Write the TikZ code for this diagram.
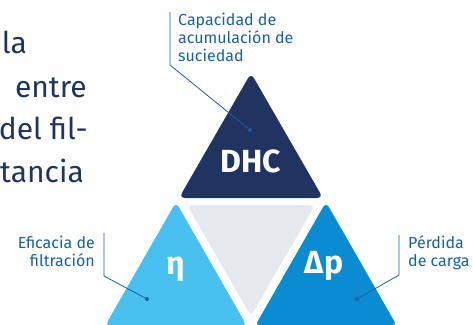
\documentclass[tikz,border=0pt]{standalone}
\usepackage{fontspec}
\setmainfont{Fira Sans}
\definecolor{navy}{HTML}{213360}
\definecolor{skyblue}{HTML}{48C1F1}
\definecolor{midblue}{HTML}{0A8BD2}
\definecolor{palegray}{HTML}{E3E9ED}
\definecolor{labelblue}{HTML}{1560A8}

\begin{document}
\begin{tikzpicture}[x=1pt, y=-1pt,
        tri/.style={rounded corners=6pt},
        sym/.style={text=white, font=\fontsize{32}{32}\selectfont\bfseries, inner sep=0pt},
        lbl/.style={text=labelblue, font=\fontsize{16}{18}\selectfont, inner sep=0pt},
        body/.style={text=navy, font=\fontsize{30}{30}\selectfont, inner sep=0pt, anchor=base east},
        leader/.style={draw=labelblue, line width=0.8pt},
        dot/.style={circle, fill=labelblue, inner sep=0pt, minimum size=4pt}]
        \useasboundingbox (0,0) rectangle (473,324);
        \clip (0,0) rectangle (473,324);

        %top, left, right and middle triangles
        \coordinate (T1) at (251,73);
        \coordinate (T2) at (179,198);
        \coordinate (T3) at (323,198);
        \coordinate (L1) at (176,202);
        \coordinate (L2) at (105,326);
        \coordinate (L3) at (247,326);
        \coordinate (R1) at (326,202);
        \coordinate (R2) at (255,326);
        \coordinate (R3) at (397,326);
        \coordinate (G1) at (187,205);
        \coordinate (G2) at (315,205);
        \coordinate (G3) at (251,316);

        \fill[tri, navy] (T1) -- (T2) -- (T3) -- cycle;
        \fill[tri, skyblue] (L1) -- (L2) -- (L3) -- cycle;
        \fill[tri, midblue] (R1) -- (R2) -- (R3) -- cycle;
        \fill[tri, palegray] (G1) -- (G2) -- (G3) -- cycle;

        \node[sym] (dhc) at (251,161) {DHC};
        \node[sym] (eta) at (176,269) {η};
        \node[sym] (dp) at (324,266) {Δp};

        %cut text on the left
        \node[body] (line1) at (27,53) {la};
        \node[body] (line2) at (87,97) {entre};
        \node[body] (line3) at (88,139) {del fil-};
        \node[body] (line4) at (84,182) {tancia};

        %labels with leaders
        \node[lbl, anchor=north west, align=left] (capa) at (178,13) {Capacidad de\\acumulación de\\suciedad};
        \node[lbl, anchor=north east, align=right] (efi) at (95,236) {Eficacia de\\filtración};
        \node[lbl, anchor=north west, align=left] (perd) at (408,235) {Pérdida\\de carga};

        \node[dot] (dotT) at (250,130) {};
        \node[dot] (dotL) at (147,299) {};
        \node[dot] (dotR) at (357,299) {};

        \coordinate (capaTop) at (170,12);
        \coordinate (capaBend) at (170,65);
        \coordinate (efiTop) at (104,233);
        \coordinate (efiBend) at (104,276);
        \coordinate (perdTop) at (399,235);
        \coordinate (perdBend) at (399,275);

        \draw[leader] (capaTop) -- (capaBend) -- (dotT);
        \draw[leader] (efiTop) -- (efiBend) -- (dotL);
        \draw[leader] (perdTop) -- (perdBend) -- (dotR);
\end{tikzpicture}
\end{document}
